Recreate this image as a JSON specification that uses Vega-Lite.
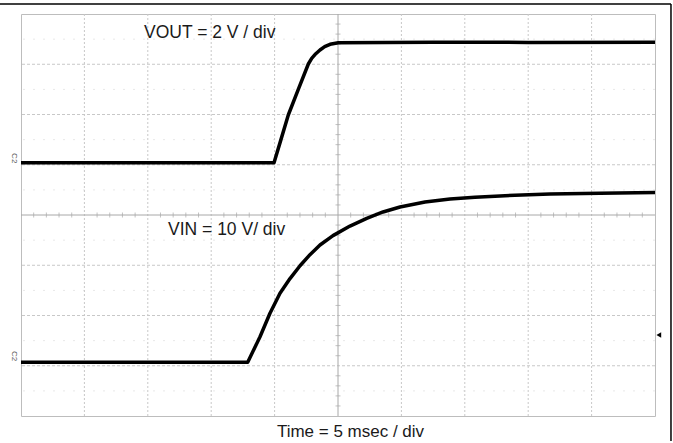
{
  "$schema": "https://vega.github.io/schema/vega-lite/v6.json",
  "width": 634,
  "height": 402,
  "autosize": "none",
  "padding": {"left": 21, "top": 14, "right": 18, "bottom": 27},
  "background": "white",
  "config": {"view": {"stroke": "#bdbdbd", "strokeWidth": 1}},
  "datasets": {
    "traces": [
      {"s": "VOUT", "x": 0, "y": 5.041},
      {"s": "VOUT", "x": 3.991, "y": 5.041},
      {"s": "VOUT", "x": 4.1, "y": 5.5},
      {"s": "VOUT", "x": 4.216, "y": 5.99},
      {"s": "VOUT", "x": 4.38, "y": 6.52},
      {"s": "VOUT", "x": 4.532, "y": 7.005},
      {"s": "VOUT", "x": 4.585, "y": 7.118},
      {"s": "VOUT", "x": 4.65, "y": 7.21},
      {"s": "VOUT", "x": 4.716, "y": 7.284},
      {"s": "VOUT", "x": 4.79, "y": 7.35},
      {"s": "VOUT", "x": 4.874, "y": 7.397},
      {"s": "VOUT", "x": 5.005, "y": 7.429},
      {"s": "VOUT", "x": 6.5, "y": 7.44},
      {"s": "VOUT", "x": 8.0, "y": 7.435},
      {"s": "VOUT", "x": 10, "y": 7.44},
      {"s": "VIN", "x": 0, "y": 1.069},
      {"s": "VIN", "x": 3.576, "y": 1.069},
      {"s": "VIN", "x": 3.77, "y": 1.578},
      {"s": "VIN", "x": 3.927, "y": 2.044},
      {"s": "VIN", "x": 4.085, "y": 2.442},
      {"s": "VIN", "x": 4.243, "y": 2.735},
      {"s": "VIN", "x": 4.401, "y": 2.99},
      {"s": "VIN", "x": 4.558, "y": 3.21},
      {"s": "VIN", "x": 4.716, "y": 3.403},
      {"s": "VIN", "x": 4.921, "y": 3.59},
      {"s": "VIN", "x": 5.189, "y": 3.78},
      {"s": "VIN", "x": 5.453, "y": 3.934},
      {"s": "VIN", "x": 5.71, "y": 4.06},
      {"s": "VIN", "x": 5.978, "y": 4.16},
      {"s": "VIN", "x": 6.372, "y": 4.259},
      {"s": "VIN", "x": 6.767, "y": 4.318},
      {"s": "VIN", "x": 7.16, "y": 4.355},
      {"s": "VIN", "x": 7.555, "y": 4.38},
      {"s": "VIN", "x": 8.344, "y": 4.418},
      {"s": "VIN", "x": 9.132, "y": 4.432},
      {"s": "VIN", "x": 10, "y": 4.448}
    ],
    "gridx": [{"v": 1}, {"v": 2}, {"v": 3}, {"v": 4}, {"v": 6}, {"v": 7}, {"v": 8}, {"v": 9}],
    "gridy": [{"v": 1}, {"v": 2}, {"v": 3}, {"v": 5}, {"v": 6}, {"v": 7}],
    "halfy": [{"v": 0.5}, {"v": 1.5}, {"v": 2.5}, {"v": 3.5}, {"v": 4.5}, {"v": 5.5}, {"v": 6.5}, {"v": 7.5}],
    "tickx": [
      {"v": 0.2, "c": 4}, {"v": 0.4, "c": 4}, {"v": 0.6, "c": 4}, {"v": 0.8, "c": 4}, {"v": 1.2, "c": 4}, {"v": 1.4, "c": 4}, {"v": 1.6, "c": 4}, {"v": 1.8, "c": 4},
      {"v": 2.2, "c": 4}, {"v": 2.4, "c": 4}, {"v": 2.6, "c": 4}, {"v": 2.8, "c": 4}, {"v": 3.2, "c": 4}, {"v": 3.4, "c": 4}, {"v": 3.6, "c": 4}, {"v": 3.8, "c": 4},
      {"v": 4.2, "c": 4}, {"v": 4.4, "c": 4}, {"v": 4.6, "c": 4}, {"v": 4.8, "c": 4}, {"v": 5.2, "c": 4}, {"v": 5.4, "c": 4}, {"v": 5.6, "c": 4}, {"v": 5.8, "c": 4},
      {"v": 6.2, "c": 4}, {"v": 6.4, "c": 4}, {"v": 6.6, "c": 4}, {"v": 6.8, "c": 4}, {"v": 7.2, "c": 4}, {"v": 7.4, "c": 4}, {"v": 7.6, "c": 4}, {"v": 7.8, "c": 4},
      {"v": 8.2, "c": 4}, {"v": 8.4, "c": 4}, {"v": 8.6, "c": 4}, {"v": 8.8, "c": 4}, {"v": 9.2, "c": 4}, {"v": 9.4, "c": 4}, {"v": 9.6, "c": 4}, {"v": 9.8, "c": 4}
    ],
    "ticky": [
      {"v": 0.2, "c": 5}, {"v": 0.4, "c": 5}, {"v": 0.6, "c": 5}, {"v": 0.8, "c": 5}, {"v": 1.2, "c": 5}, {"v": 1.4, "c": 5}, {"v": 1.6, "c": 5}, {"v": 1.8, "c": 5},
      {"v": 2.2, "c": 5}, {"v": 2.4, "c": 5}, {"v": 2.6, "c": 5}, {"v": 2.8, "c": 5}, {"v": 3.2, "c": 5}, {"v": 3.4, "c": 5}, {"v": 3.6, "c": 5}, {"v": 3.8, "c": 5},
      {"v": 4.2, "c": 5}, {"v": 4.4, "c": 5}, {"v": 4.6, "c": 5}, {"v": 4.8, "c": 5}, {"v": 5.2, "c": 5}, {"v": 5.4, "c": 5}, {"v": 5.6, "c": 5}, {"v": 5.8, "c": 5},
      {"v": 6.2, "c": 5}, {"v": 6.4, "c": 5}, {"v": 6.6, "c": 5}, {"v": 6.8, "c": 5}, {"v": 7.2, "c": 5}, {"v": 7.4, "c": 5}, {"v": 7.6, "c": 5}, {"v": 7.8, "c": 5}
    ],
    "labels": [
      {"t": "VOUT = 2 V / div", "x": 1.94, "y": 7.516, "c": 0},
      {"t": "VIN = 10 V/ div", "x": 2.319, "y": 3.602, "c": 0},
      {"t": "Time = 5 msec / div", "x": 5.197, "y": -0.412, "c": 1}
    ],
    "chan": [
      {"t": "C2", "x": -0.11, "y": 5.13},
      {"t": "C2", "x": -0.11, "y": 1.19}
    ],
    "marker": [{"x": 10.06, "y": 1.612}],
    "frame": [
      {"x1": -0.4, "y1": 8.199, "x2": 10.252, "y2": 8.199},
      {"x1": 10.252, "y1": 8.199, "x2": 10.252, "y2": -0.4975}
    ]
  },
  "layer": [
    {
      "data": {"name": "halfy"},
      "mark": {"type": "rule", "color": "#e8e8e8", "strokeWidth": 1, "strokeDash": [2, 8]},
      "encoding": {
        "y": {"field": "v", "type": "quantitative", "scale": {"domain": [0, 8], "nice": false, "zero": false}, "axis": null}
      }
    },
    {
      "data": {"name": "gridx"},
      "mark": {"type": "rule", "color": "#c8c8c8", "strokeWidth": 1, "strokeDash": [2, 2]},
      "encoding": {
        "x": {"field": "v", "type": "quantitative", "scale": {"domain": [0, 10], "nice": false, "zero": false}, "axis": null}
      }
    },
    {
      "data": {"name": "gridy"},
      "mark": {"type": "rule", "color": "#c8c8c8", "strokeWidth": 1, "strokeDash": [3, 2]},
      "encoding": {
        "y": {"field": "v", "type": "quantitative", "axis": null}
      }
    },
    {
      "data": {"values": [{"v": 5}]},
      "mark": {"type": "rule", "color": "#a8a8a8", "strokeWidth": 1},
      "encoding": {"x": {"field": "v", "type": "quantitative", "axis": null}}
    },
    {
      "data": {"values": [{"v": 4}]},
      "mark": {"type": "rule", "color": "#a8a8a8", "strokeWidth": 1},
      "encoding": {"y": {"field": "v", "type": "quantitative", "axis": null}}
    },
    {
      "data": {"name": "tickx"},
      "mark": {"type": "tick", "orient": "vertical", "color": "#a8a8a8", "size": 5, "thickness": 1},
      "encoding": {
        "x": {"field": "v", "type": "quantitative", "axis": null},
        "y": {"field": "c", "type": "quantitative", "axis": null}
      }
    },
    {
      "data": {"name": "ticky"},
      "mark": {"type": "tick", "orient": "horizontal", "color": "#a8a8a8", "size": 5, "thickness": 1},
      "encoding": {
        "y": {"field": "v", "type": "quantitative", "axis": null},
        "x": {"field": "c", "type": "quantitative", "axis": null}
      }
    },
    {
      "data": {"name": "traces"},
      "mark": {"type": "line", "color": "#000000", "strokeWidth": 3.5, "interpolate": "linear", "strokeJoin": "round"},
      "encoding": {
        "x": {"field": "x", "type": "quantitative", "axis": null},
        "y": {"field": "y", "type": "quantitative", "axis": null},
        "detail": {"field": "s", "type": "nominal"}
      }
    },
    {
      "data": {"name": "labels"},
      "transform": [{"filter": "datum.c == 0"}],
      "mark": {"type": "text", "font": "Liberation Sans", "fontSize": 17.5, "color": "#1a1a1a", "align": "left", "baseline": "alphabetic"},
      "encoding": {
        "x": {"field": "x", "type": "quantitative", "axis": null},
        "y": {"field": "y", "type": "quantitative", "axis": null},
        "text": {"field": "t", "type": "nominal"}
      }
    },
    {
      "data": {"name": "labels"},
      "transform": [{"filter": "datum.c == 1"}],
      "mark": {"type": "text", "font": "Liberation Sans", "fontSize": 17, "color": "#1a1a1a", "align": "center", "baseline": "alphabetic"},
      "encoding": {
        "x": {"field": "x", "type": "quantitative", "axis": null},
        "y": {"field": "y", "type": "quantitative", "axis": null},
        "text": {"field": "t", "type": "nominal"}
      }
    },
    {
      "data": {"name": "chan"},
      "mark": {"type": "text", "font": "Liberation Sans", "fontSize": 8, "color": "#555555", "align": "center", "baseline": "middle", "angle": 90},
      "encoding": {
        "x": {"field": "x", "type": "quantitative", "axis": null},
        "y": {"field": "y", "type": "quantitative", "axis": null},
        "text": {"field": "t", "type": "nominal"}
      }
    },
    {
      "data": {"name": "marker"},
      "mark": {"type": "point", "shape": "triangle-left", "filled": true, "color": "#000000", "size": 30, "opacity": 1},
      "encoding": {
        "x": {"field": "x", "type": "quantitative", "axis": null},
        "y": {"field": "y", "type": "quantitative", "axis": null}
      }
    },
    {
      "data": {"name": "frame"},
      "mark": {"type": "rule", "color": "#000000", "strokeWidth": 1.5},
      "encoding": {
        "x": {"field": "x1", "type": "quantitative", "axis": null},
        "y": {"field": "y1", "type": "quantitative", "axis": null},
        "x2": {"field": "x2"},
        "y2": {"field": "y2"}
      }
    }
  ]
}
